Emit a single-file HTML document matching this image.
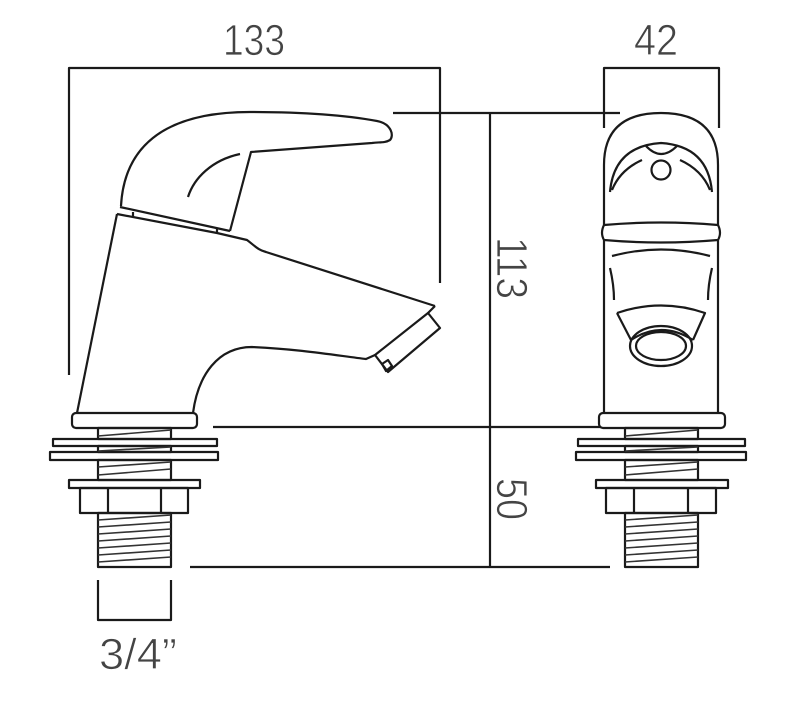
<!DOCTYPE html>
<html><head><meta charset="utf-8"><style>
html,body{margin:0;padding:0;background:#fff;}
svg{display:block;}
text{font-family:"Liberation Sans",sans-serif;fill:#444;font-weight:normal;stroke:#fff;stroke-width:0.8;paint-order:normal;}
</style></head><body>
<svg width="796" height="722" viewBox="0 0 796 722" xmlns="http://www.w3.org/2000/svg">
<g fill="none" stroke="#1a1a1a" stroke-width="2.2" stroke-linejoin="round" stroke-linecap="butt">
<polyline points="69,375 69,68 440,68 440,283"/>
<polyline points="604,128 604,68 719,68 719,128"/>
<line x1="393" y1="113" x2="620" y2="113"/>
<line x1="490" y1="113" x2="490" y2="567"/>
<line x1="213" y1="427" x2="600" y2="427"/>
<line x1="190" y1="567" x2="610" y2="567"/>
<polyline points="98,580 98,620 171,620 171,580"/>

<path d="M121,206 C124,150 160,112 250,112 C310,112 350,116 377,121 C392,124 394,136 390,140 C385,143 380,142 372,143 L251,152 L230,231"/>
<path d="M240,154 C212,160 194,178 188,197"/>
<line x1="120" y1="207" x2="230" y2="231"/>
<path d="M117,214 L217,233 L247,240 C255,246 258,250 266,252 L435,306"/>
<line x1="133" y1="212" x2="133" y2="217"/>
<line x1="217" y1="229" x2="217" y2="234"/>
<line x1="117" y1="214" x2="77" y2="413"/>
<path d="M193,413 C198,375 218,347 252,347 C300,349 340,356 366,359 L375,355"/>
<polygon points="428,313 440,328 388,372 375,355"/>
<line x1="435" y1="306" x2="428" y2="313"/>
<polygon points="382,364 388,360 392,366 386,371"/>
<rect x="72" y="413" width="125" height="15" rx="4"/>
<rect x="98" y="428" width="73" height="11"/>
<rect x="53" y="439" width="164" height="7"/>
<rect x="98" y="446" width="73" height="6"/>
<rect x="50" y="452" width="168" height="8"/>
<rect x="98" y="460" width="73" height="20"/>
<rect x="69" y="480" width="131" height="8"/>
<rect x="80" y="488" width="108" height="25"/>
<line x1="108" y1="488" x2="108" y2="513"/><line x1="161" y1="488" x2="161" y2="513"/>
<rect x="98" y="513" width="73" height="54"/>

<path d="M604,225 L604,165 Q604,113 661,113 Q718,113 718,165 L718,225"/>
<path d="M604,225 Q661,220 718,225 Q722,233 718,240 Q661,245 604,240 Q600,233 604,225 Z"/>
<path d="M610,192 Q614,146 661,143 Q708,146 712,192"/>
<path d="M646,146 Q661,162 677,146"/>
<circle cx="661" cy="170" r="9.5"/>
<path d="M612,190 Q620,170 642,160"/>
<path d="M710,190 Q702,170 680,160"/>
<line x1="604" y1="240" x2="604" y2="413"/>
<line x1="718" y1="240" x2="718" y2="413"/>
<path d="M612,256 Q661,243 710,256"/>
<path d="M610,268 Q614,285 614,300"/>
<path d="M712,268 Q708,285 708,300"/>
<path d="M617,313 Q661,298 705,313 L693,340"/>
<path d="M617,313 L631,340"/>
<ellipse cx="661" cy="346" rx="31" ry="20"/>
<ellipse cx="661" cy="346" rx="25" ry="14"/>
<path d="M631,340 Q661,320 693,340"/>
<rect x="599" y="413" width="126" height="15" rx="4"/>
<rect x="625" y="428" width="73" height="11"/>
<rect x="578" y="439" width="167" height="7"/>
<rect x="625" y="446" width="73" height="6"/>
<rect x="576" y="452" width="170" height="8"/>
<rect x="625" y="460" width="73" height="20"/>
<rect x="596" y="480" width="132" height="8"/>
<rect x="606" y="488" width="110" height="25"/>
<line x1="634" y1="488" x2="634" y2="513"/><line x1="688" y1="488" x2="688" y2="513"/>
<rect x="625" y="513" width="73" height="54"/>
</g>
<g stroke="#333" stroke-width="1.6">
<line x1="98" y1="436" x2="171" y2="430"/>
<line x1="98" y1="451" x2="171" y2="447"/>
<line x1="98" y1="467" x2="171" y2="462"/><line x1="98" y1="475" x2="171" y2="469"/>
<line x1="98" y1="520" x2="171" y2="515"/><line x1="98" y1="527" x2="171" y2="522"/><line x1="98" y1="534" x2="171" y2="529"/><line x1="98" y1="541" x2="171" y2="536"/><line x1="98" y1="548" x2="171" y2="543"/><line x1="98" y1="555" x2="171" y2="550"/><line x1="98" y1="562" x2="171" y2="557"/>
<line x1="625" y1="436" x2="698" y2="430"/>
<line x1="625" y1="451" x2="698" y2="447"/>
<line x1="625" y1="467" x2="698" y2="462"/><line x1="625" y1="475" x2="698" y2="469"/>
<line x1="625" y1="520" x2="698" y2="515"/><line x1="625" y1="527" x2="698" y2="522"/><line x1="625" y1="534" x2="698" y2="529"/><line x1="625" y1="541" x2="698" y2="536"/><line x1="625" y1="548" x2="698" y2="543"/><line x1="625" y1="555" x2="698" y2="550"/><line x1="625" y1="562" x2="698" y2="557"/>
</g>
<text x="223" y="55" font-size="44" textLength="62" lengthAdjust="spacingAndGlyphs">133</text>
<text x="634" y="55" font-size="44" textLength="44" lengthAdjust="spacingAndGlyphs">42</text>
<text x="99" y="669" font-size="44" textLength="78" lengthAdjust="spacingAndGlyphs">3/4”</text>
<text transform="translate(497,237) rotate(90)" font-size="44" textLength="62" lengthAdjust="spacingAndGlyphs">113</text>
<text transform="translate(497,478) rotate(90)" font-size="44" textLength="42" lengthAdjust="spacingAndGlyphs">50</text>
</svg>
</body></html>
